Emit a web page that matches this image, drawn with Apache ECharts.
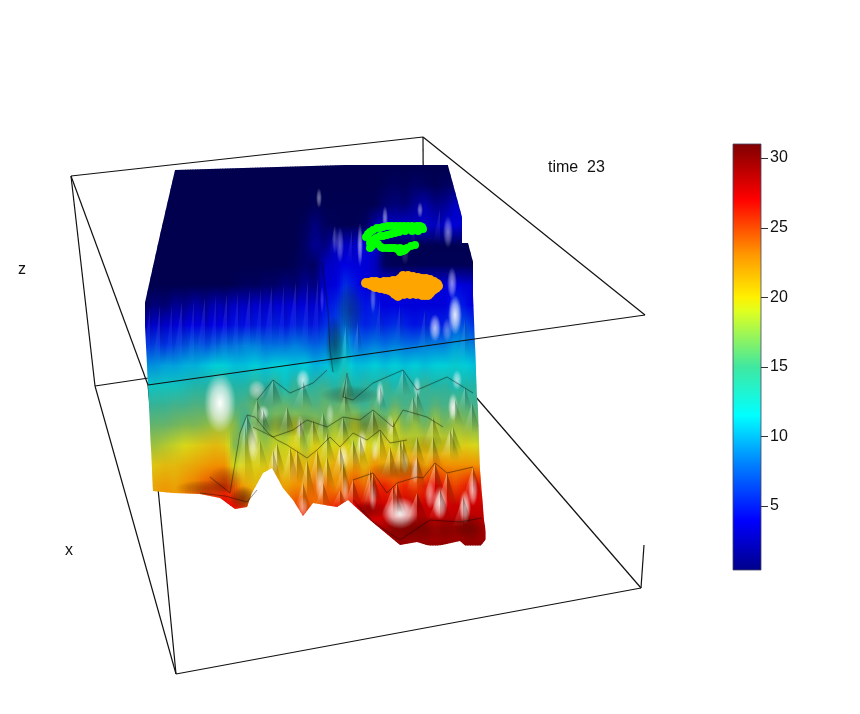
<!DOCTYPE html>
<html><head><meta charset="utf-8">
<style>html,body{margin:0;padding:0;background:#fff}#c{width:860px;height:714px}</style>
<script src="https://cdn.jsdelivr.net/npm/echarts@6/dist/echarts.min.js"></script>
</head><body><div id="c"></div>
<script>
// Screen-plane sampling positions of the perspective surface
const colX = [145,155,165,175,185, 195,205,215,225,235, 245,255,265,275,285, 295,305,315,325,335, 345,355,365,375,385, 395,405,415,425,435, 445,455,465,475,485];
const rowY = [165,185,205,225,245,265,285,305,325,345,365,385,405,425,445,465,485,505,525,545];
// Surface height (same unit as the colour bar) read at each sample
const heights = [
[.4,.4,.4,.4,.4, .4,.4,.4,.4,.4, .4,.4,.4,.4,.4, .4,.4,.4,.4,.4, .4,.4,.4,.4,.4, .4,.4,.4,.4,.4, .4,.4,.4,.4,.4],
[.4,.4,.4,.4,.4, .4,.4,.4,.4,.4, .4,.4,.4,.4,.4, .4,.4,.4,.4,.4, .4,.4,.4,.4,.6, .8,.6,1,.8,.5, .8,1,1,1,1],
[.4,.4,.4,.4,.4, .4,.4,.4,.4,.4, .4,.4,.4,.4,.4, .4,.4,.6,.5,.5, .5,.5,.5,.5,1.2, 1.5,1.2,2,2.6,1.8, 2,3,3,2.5,2.5],
[.4,.4,.4,.4,.4, .4,.4,.4,.4,.4, .4,.4,.4,.4,.4, .4,.7,1.6,.8,.6, .5,.5,.8,2.5,3.5, 3,3.5,3,3.5,3, 3.6,4,3.5,3,3],
[.4,.4,.4,.4,.4, .4,.4,.4,.4,.4, .4,.4,.4,.4,.4, .4,1,2,1.5,3, 3,3.5,4,3.5,.6, .5,.5,.5,.5,.5, .5,.5,.5,.5,.5],
[.4,.4,.4,.4,.4, .4,.4,.4,.4,.4, .4,.4,.4,.4,.4, .6,1,.8,3,3.5, 4.5,4,4,3,.8, .6,.5,.5,.6,.6, .6,.6,.6,.6,.6],
[.4,.4,.4,.4,.4, .4,.4,.4,.4,.5, .8,.7,1,1,1.5, 1.2,2,1.5,3.5,4, 6,5,4,3.5,4, 4,4,4,4,4, 4,4.5,4,3.5,3.5],
[.8,1.5,1.2,2,1.8, 2.5,2,2.8,2.5,3.2, 3,3.5,3.2,3.8,3.5, 4,4,3.5,5,5.5, 7,6,5,5.5,4, 4.5,4,4,4,4, 4,6,5,4,4],
[3,3.5,3.3,4,4, 4.5,4,4.5,4.5,5, 4.8,5.2,5,5.5,5, 5.5,5.5,5,6,6.5, 8,6.5,5.5,6,5.5, 6,5.5,5,5.5,5.5, 5.5,7,7,6,6],
[6,6.5,6,6.5,7, 7.5,7,7.5,8,8, 8.5,8.5,8,8,8, 8.5,8,7.5,8,9, 10,8,8,8.5,8, 8.5,8,8,8.5,8.5, 8.5,9.5,9,8.5,8],
[9,9,9.5,9.5,10, 10,10.5,11,11,10.5, 10.5,11,10.5,11,11, 10.5,11,10,10.5,11, 12,10.5,10.5,11,10.5, 11,10.5,11,10.5,11, 11,11.5,11,10.5,10],
[11.5,12,12,12,12.5, 13,13,13.5,13.5,13, 13,14,13,14,12, 14,13,13.5,14,13, 14.5,12.5,13.5,13,14, 12.5,14,13,14,13, 13.5,12.5,13,13,12.5],
[13.5,14,14,14.5,14.5, 15,15,15.5,15,14.5, 15,16,15,15.5,16, 15,16,15,16,15.5, 16.5,15,14,15.5,14, 16,14.5,15.5,14,15.5, 14.5,15.5,15,14.5,14.5],
[15.5,16,16,16.5,17, 17,17.5,18,18,17.5, 14,17,16,18,17, 19,17,18,16.5,18, 17,19,17,18,17.5, 19,17,18,16.5,18.5, 17,18,17.5,17,16.5],
[18,18,18.5,19,19.5, 20,20.5,21,20.5,17, 18,19,18,19,19, 20,18,20,19,19.5, 20,18.5,20,19,20.5, 19,20,19,20.5,19, 20,19,20,19.5,19],
[20,20.5,21,21,21.5, 22,22.5,23,23,19, 20,20,20,21,20, 22,21,22,20.5,22, 21,22.5,21,23,22, 23,22,24,22,24, 23,23,23,23,23],
[21.5,22,22.5,22,23, 23.5,24.5,25,25.5,24, 22,21,22,23,22, 23,23,24,24,23, 24,25,24,26,26, 25,26,25,26,27, 26,25,26,27,26],
[22,22,23,23,24, 25,26,26,27,26.5, 25,23,23,24,24, 25,25,24,25,26, 26,27,28,27,28, 27,28,28,28,28, 27.5,28,28,28,28],
[26,26,26,26,26, 26,26,27,27,27, 27,27,27,27,27, 27,27,27,27,27, 27,27,28,28,28, 29,29,29,29,28, 29,29,29,29,29],
[30,30,30,30,30, 30,30,30,30,30, 30,30,30,30,30, 30,30,30,30,30, 30,30,30,30,30, 30,30,30,30,30, 30,30,30,30,30]
];
// Silhouette of the surface
const outline = [[175,170],[447,162],[462,217],[462,243],[468,243],[473,262],[473,295],[475,345],[477,397],[478,410],[480,470],[484,520],[487,538],[478,549],[470,550],[460,541],[433,547],[417,542],[400,545],[370,520],[348,500],[337,507],[313,503],[303,516],[293,500],[283,488],[272,468],[263,473],[252,493],[247,507],[235,509],[220,498],[200,494],[173,493],[153,491],[148,385],[144,307],[160,235]];
// Soft lighting patches: [x, y, rx, ry, strength]; negative strength is shadow
const lighting = [
[319,198,3,10,.45],[420,210,3,8,.45],[385,218,3,12,.5],[360,245,3,22,.55],[340,245,4,18,.35],[448,232,5,16,.45],
[452,283,5,16,.55],[455,315,7,20,.9],[435,328,6,14,.7],[373,298,3,16,.35],[322,300,2,14,.2],[447,330,5,12,.35],[335,240,3,14,.25],[405,255,4,10,.15],
[220,403,16,30,1],[303,380,7,11,.7],[257,390,9,10,.6],[380,393,4,13,.7],[453,407,5,14,.85],[417,387,4,11,.6],[457,380,5,10,.6],
[362,443,5,14,.75],[253,443,6,20,.7],[300,427,4,12,.65],[263,413,6,8,.7],[343,457,6,13,.7],[320,483,5,18,.6],[303,507,5,11,.5],
[400,513,18,16,1],[440,503,8,17,.85],[465,507,6,17,.85],[373,497,4,14,.6],[473,490,5,16,.7],[415,470,4,14,.55],
[430,495,5,14,.5],[330,415,4,12,.45],[375,450,4,12,.5],[405,462,4,12,.5],[345,490,4,14,.5],[390,425,4,11,.45],[275,460,4,14,.45],
[205,488,30,8,-.28],[225,480,18,14,-.22],[243,498,14,12,-.45],[420,528,60,13,-.3],[470,528,16,14,-.3],[370,510,18,10,-.35],
[335,345,10,30,-.45],[350,395,30,10,-.28],[290,425,40,12,-.22],[365,425,30,14,-.25],[425,445,40,10,-.18],[400,470,30,10,-.25],[265,395,20,15,-.12],[350,310,14,28,-.3]
];
// Folds: [tipX, tipY, halfWidth, depth, strength]
const folds = [
[150,308,5,55,.18],[160,306,5,60,.26],[172,304,5,65,.18],[182,302,6,60,.26],[194,300,5,70,.2],[205,298,6,60,.26],[216,296,5,70,.2],[227,294,6,65,.26],[238,292,5,72,.2],[250,290,6,62,.26],[261,288,5,70,.2],[272,286,6,62,.26],[284,284,5,70,.2],[296,282,6,62,.26],[308,280,5,70,.26],[318,278,5,70,.26],
[346,325,4,40,.45],[358,322,4,36,.4],[380,300,4,40,.25],[400,305,4,38,.25],[425,310,5,42,.25],[465,320,5,40,.25],[335,225,4,30,.2],[352,230,4,35,.25],[378,225,4,30,.25],[415,220,4,28,.25],[440,210,5,34,.25],
[347,373,6,26,.6],[403,370,6,26,.55],[273,380,7,26,.6],[380,387,5,24,.6],[417,392,6,24,.6],[455,400,6,26,.6],[465,387,5,24,.55],[303,382,7,26,.6],[345,393,5,24,.6],[257,400,7,30,.65],[247,415,8,34,.75],
[263,410,6,24,.7],[287,407,6,28,.7],[300,420,6,30,.7],[323,413,6,28,.7],[343,417,6,30,.75],[373,410,6,30,.75],[393,420,6,28,.75],[413,397,6,28,.65],[433,417,7,30,.65],[453,427,7,28,.65],[472,403,6,30,.6],
[313,420,6,28,.7],[360,437,6,30,.8],[380,430,6,32,.8],[403,440,6,30,.8],[417,437,6,30,.8],[433,437,6,30,.7],[450,430,7,30,.7],
[277,443,6,32,.75],[297,450,7,34,.75],[317,450,6,34,.8],[327,433,6,30,.8],[340,447,6,32,.85],[353,440,6,32,.85],[370,470,6,34,.85],[390,447,6,30,.85],[400,440,6,34,.85],[417,457,7,34,.85],[435,463,8,36,.85],[473,467,7,32,.75],
[373,473,7,34,.85],[397,483,7,32,.8],[353,480,7,30,.8],[447,473,7,34,.85],[343,463,6,32,.8],[327,457,6,34,.8],[307,460,6,38,.8],[290,447,6,34,.75],[273,450,6,34,.7],
[303,483,6,30,.7],[323,483,6,26,.7],[340,490,6,18,.6],[393,487,8,30,.8],[417,493,8,30,.8],[440,490,8,30,.8],[463,497,7,30,.75],[245,425,7,60,.5],[260,440,6,30,.5]
];
// Dark creases of the crumpled surface
const ridges = [
[[240,433],[247,415],[255,417],[268,433],[277,440],[287,445],[307,458],[317,450],[330,437],[340,447],[353,433],[367,440],[380,430],[390,443],[407,440]],
[[253,427],[273,437],[293,430],[307,420],[327,427],[343,417],[360,420],[373,410],[393,427],[403,410],[427,417],[443,427]],
[[257,400],[273,380],[290,393],[313,383],[327,370]],
[[353,480],[373,473],[387,493],[397,483],[417,477],[423,478],[435,463],[447,473],[473,467]],
[[210,477],[230,493],[240,433]],
[[200,493],[225,496],[247,502],[257,490]],
[[347,373],[343,397],[353,400],[373,383],[403,370],[417,390],[447,377],[473,393]],
[[353,500],[373,522],[400,540],[430,520],[460,522],[482,518]],
[[322,262],[328,310],[330,350],[333,372]]
];
// Two point clouds
const greenPts = [[366,237],[368,234],[370,232],[373,230],[377,228],[380,228],[383,227],[388,226],[392,226],[396,226],[400,226],[404,226],[408,226],[412,226],[417,226],[420,226],[422,227],[423,229],[418,231],[412,231],[405,231],[399,232],[395,233],[391,234],[387,235],[383,236],[380,236],[376,238],[373,240],[370,243],[372,246],[370,248],[375,243],[378,244],[381,247],[383,248],[387,248],[390,248],[392,248],[400,248],[404,249],[407,248],[411,246],[415,245],[400,252],[403,251],[405,250],[397,249],[395,248]];
const orangePts = [[366,283],[369,283],[372,282],[376,282],[380,283],[384,282],[388,282],[393,281],[397,281],[400,279],[403,276],[408,276],[413,277],[418,278],[422,279],[426,279],[430,280],[434,282],[437,284],[438,286],[436,288],[433,290],[430,293],[428,295],[425,295],[422,295],[416,294],[410,294],[404,294],[398,296],[395,294],[393,292],[389,290],[385,289],[380,288],[375,287],[371,285],[374,284],[379,285],[383,285],[388,285],[393,285],[398,284],[403,285],[408,285],[413,285],[418,285],[423,285],[428,286],[398,290],[403,292],[408,291],[413,292],[418,292],[423,292],[402,280],[407,280],[412,280],[417,280],[423,281],[430,283]];
// Wireframe box
const backEdges = [[[95,386],[424,337]],[[424,337],[641,588]],[[423,137],[424,337]],[[148,385],[176,674]]];
const frontEdges = [[[71,176],[423,137]],[[423,137],[645,315]],[[71,176],[148,385]],[[71,176],[95,386]],[[95,386],[176,674]],[[176,674],[641,588]],[[641,588],[644,545]],[[148,385],[645,315]]];
// Colour scale
const barStops = [[.4,'#00008a'],[4,'#0000ff'],[8,'#0080ff'],[11.5,'#00ffff'],[15,'#40e8a0'],[19,'#e0ff20'],[20,'#fff000'],[23,'#ff9900'],[27,'#ff0000'],[31,'#7f0000']];
const surfStops = [[.4,'#00004e'],[1.2,'#00006e'],[3,'#0000c0'],[4.5,'#0000e4'],[8,'#0070e0'],[11,'#00cfd8'],[13,'#20b4a8'],[15,'#50b080'],[17.5,'#88b848'],[19.5,'#d8d818'],[23,'#f09000'],[27,'#e80000'],[30,'#8f0000']];
const barTicks = [5,10,15,20,25,30];

function scaleColor(stops, v){
  if(v<=stops[0][0]) return stops[0][1];
  for(let i=1;i<stops.length;i++){
    if(v<=stops[i][0]){
      const t=(v-stops[i-1][0])/(stops[i][0]-stops[i-1][0]);
      return echarts.color.lerp(t,[stops[i-1][1],stops[i][1]]);
    }
  }
  return stops[stops.length-1][1];
}
function sample(j,x){
  const f=(x-colX[0])/(colX[1]-colX[0]);
  const i=Math.min(Math.floor(f),colX.length-2), t=f-i;
  return heights[j][i]*(1-t)+heights[j][i+1]*t;
}
function clipShape(api){ return {type:'polygon',shape:{points:outline.map(p=>api.coord(p))}}; }
function surfaceRow(params,api){
  const j=params.dataIndex, kids=[], slice=2.5;
  for(let x=colX[0];x<colX[colX.length-1];x+=slice){
    const a=api.coord([x,rowY[j]]), b=api.coord([x+slice,rowY[j+1]]);
    kids.push({type:'rect',shape:{x:a[0],y:a[1],width:b[0]-a[0]+.6,height:b[1]-a[1]+.6},
      style:{fill:{type:'linear',x:0,y:0,x2:0,y2:1,colorStops:[
        {offset:0,color:scaleColor(surfStops,sample(j,x+slice/2))},
        {offset:1,color:scaleColor(surfStops,sample(j+1,x+slice/2))}]}}});
  }
  return {type:'group',children:kids,clipPath:clipShape(api)};
}
function lightItem(params,api){
  const c=api.coord([api.value(0),api.value(1)]), s=api.value(4);
  const rgb=s>=0?'255,255,255':'20,10,0', a=Math.abs(s);
  return {type:'group',clipPath:clipShape(api),children:[{type:'circle',shape:{cx:0,cy:0,r:1},x:c[0],y:c[1],scaleX:api.value(2),scaleY:api.value(3),
    style:{fill:{type:'radial',x:.5,y:.5,r:.5,colorStops:[
      {offset:0,color:'rgba('+rgb+','+a+')'},
      {offset:.55,color:'rgba('+rgb+','+a*.6+')'},
      {offset:1,color:'rgba('+rgb+',0)'}]}}}]};
}
function foldItem(params,api){
  const tx=api.value(0),ty=api.value(1),w=api.value(2)*1.5,d=api.value(3),s=api.value(4);
  const tip=api.coord([tx,ty]), base=api.coord([tx,ty+d]), l=api.coord([tx-w,ty+d]), r=api.coord([tx+w,ty+d]);
  const grad=(rgb,a)=>({type:'linear',x:0,y:0,x2:0,y2:1,colorStops:[
    {offset:0,color:'rgba('+rgb+','+a+')'},{offset:1,color:'rgba('+rgb+',0)'}]});
  return {type:'group',clipPath:clipShape(api),children:[
    {type:'polygon',shape:{points:[tip,l,base]},style:{fill:grad('255,255,235',s*.5)}},
    {type:'polygon',shape:{points:[tip,base,r]},style:{fill:grad('10,10,0',s*.5)}}
  ]};
}
function edgeSeries(edge,z){
  return {type:'line',data:edge,xAxisIndex:0,yAxisIndex:0,symbol:'none',silent:true,animation:false,z:z,
    lineStyle:{color:'#111',width:1.2}};
}
const font='"Liberation Sans",Arial,sans-serif';
const chart=echarts.init(document.getElementById('c'),null,{renderer:'canvas'});
chart.setOption({
  animation:false,backgroundColor:'#fff',
  grid:[{left:0,top:0,width:860,height:714},{left:733,top:144,width:28,height:426}],
  xAxis:[{type:'value',gridIndex:0,min:0,max:860,show:false},{type:'value',gridIndex:1,min:0,max:1,show:false}],
  yAxis:[{type:'value',gridIndex:0,min:0,max:714,inverse:true,show:false},
    {type:'value',gridIndex:1,min:.4,max:31,position:'right',splitLine:{show:false},
     axisLine:{show:false},axisTick:{show:false},
     axisLabel:{color:'#111',fontFamily:font,fontSize:16,margin:9,customValues:barTicks}}],
  graphic:[
    {type:'text',left:548,top:160,style:{text:'time  23',font:'16px '+font,fill:'#111'}},
    {type:'text',left:18,top:262,style:{text:'z',font:'16px '+font,fill:'#111'}},
    {type:'text',left:65,top:543,style:{text:'x',font:'16px '+font,fill:'#111'}}
  ],
  series:[
    ...backEdges.map(e=>edgeSeries(e,1)),
    {type:'custom',coordinateSystem:'cartesian2d',z:2,silent:true,data:rowY.slice(0,-1),renderItem:surfaceRow},
    {type:'custom',coordinateSystem:'cartesian2d',z:3,silent:true,data:lighting,renderItem:lightItem,encode:{x:0,y:1}},
    {type:'custom',coordinateSystem:'cartesian2d',z:3,silent:true,data:folds,renderItem:foldItem,encode:{x:0,y:1}},
    ...ridges.map(r=>({type:'line',data:r,symbol:'none',silent:true,z:4,
      lineStyle:{color:'rgba(10,10,0,.4)',width:1,shadowBlur:2,shadowColor:'rgba(0,0,0,.3)'}})),
    {type:'scatter',data:greenPts,symbol:'circle',symbolSize:8,itemStyle:{color:'#00ff00',opacity:1},z:5,silent:true},
    {type:'scatter',data:orangePts,symbol:'circle',symbolSize:10,itemStyle:{color:'#ffa500',opacity:1},z:5,silent:true},
    ...frontEdges.map(e=>edgeSeries(e,6)),
    {type:'custom',xAxisIndex:1,yAxisIndex:1,coordinateSystem:'cartesian2d',z:2,silent:true,clip:false,data:[[0,.4,1,31]],
     encode:{x:[0,2],y:[1,3]},
     renderItem:(p,api)=>{
       const a=api.coord([api.value(0),api.value(3)]), b=api.coord([api.value(2),api.value(1)]);
       const lo=api.value(1),hi=api.value(3);
       return {type:'rect',shape:{x:a[0],y:a[1],width:b[0]-a[0],height:b[1]-a[1]},
         style:{stroke:'rgba(70,70,100,.8)',lineWidth:1,fill:{type:'linear',x:0,y:0,x2:0,y2:1,
           colorStops:barStops.map(s=>({offset:(hi-s[0])/(hi-lo),color:s[1]})).reverse()}}};
     }},
    {type:'custom',xAxisIndex:1,yAxisIndex:1,coordinateSystem:'cartesian2d',z:3,silent:true,clip:false,
     data:barTicks.map(v=>[1,v]),encode:{x:0,y:1},
     renderItem:(p,api)=>{
       const c=api.coord([api.value(0),api.value(1)]), y=Math.round(c[1])+.5;
       return {type:'line',shape:{x1:c[0],y1:y,x2:c[0]+7,y2:y},style:{stroke:'#333',lineWidth:1}};
     }}
  ]
});
</script></body></html>
